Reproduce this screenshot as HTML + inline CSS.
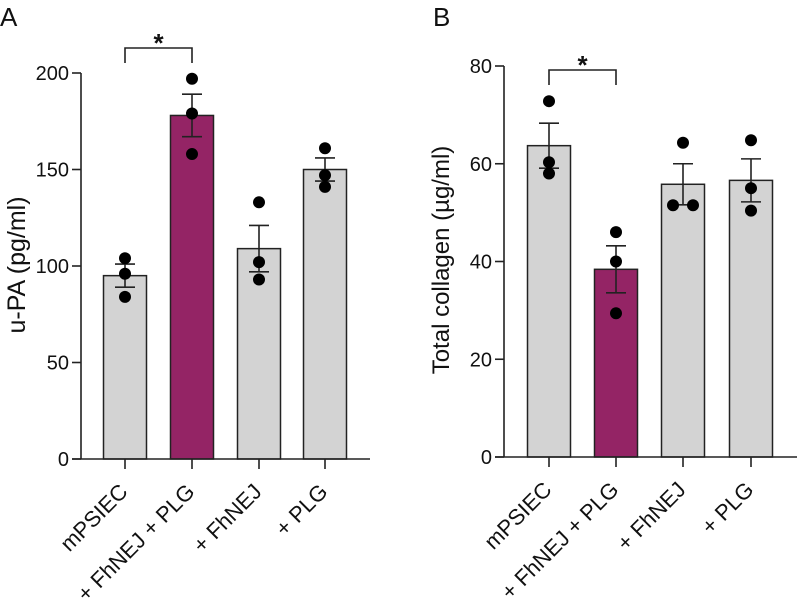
<!DOCTYPE html>
<html><head><meta charset="utf-8"><style>
html,body{margin:0;padding:0;background:#fff;}
svg{display:block;font-family:"Liberation Sans","DejaVu Sans",sans-serif;}
</style></head><body>
<svg id="fig" width="797" height="611" viewBox="0 0 797 611"></svg>
<script>
const categories = ["mPSIEC", "+ FhNEJ + PLG", "+ FhNEJ", "+ PLG"];
const aMeans = [95, 178, 109, 150];
const aSem = [6, 11, 12, 6];
const aPoints = [[104, 96, 84], [197, 179, 158], [133, 102, 93], [161, 147, 141]];
const aTicks = [0, 50, 100, 150, 200];
const bMeans = [63.7, 38.4, 55.8, 56.6];
const bSem = [4.6, 4.8, 4.2, 4.4];
const bPoints = [[72.8, 60.3, 58], [46, 40, 29.4], [64.3, 51.5, 51.5], [64.8, 55, 50.4]];
const bTicks = [0, 20, 40, 60, 80];

const NS = "http://www.w3.org/2000/svg";
const svg = document.getElementById("fig");
function mk(tag, attrs, parent, name) {
  const e = document.createElementNS(NS, tag);
  for (const k in attrs) e.setAttribute(k, attrs[k]);
  
  
  (parent || svg).appendChild(e);
  return e;
}
function panel(o) {
  const g = mk("g", {}, svg, o.id);
  const y = v => o.y0 - (v - o.min) / (o.max - o.min) * (o.y0 - o.yTop);
  const x = i => o.xs[i];
  const L = {stroke: "#222", "stroke-width": 1.6, fill: "none"};
  mk("text", {x: o.letterX, y: 26, "font-size": 26, fill: "#111"}, g, "panel-letter").textContent = o.letter;
  o.means.forEach((m, i) => {
    mk("rect", {x: x(i) - 21.5, y: y(m), width: 43, height: o.y0 - y(m), fill: i === 1 ? "#942465" : "#d3d3d3", stroke: "#222", "stroke-width": 1.5}, g, "bar-" + i);
    const t = y(m + o.sem[i]), b = y(m - o.sem[i]);
    mk("line", Object.assign({x1: x(i), x2: x(i), y1: t, y2: b}, L), g, "error-bar-" + i);
    mk("line", Object.assign({x1: x(i) - 10, x2: x(i) + 10, y1: t, y2: t}, L), g, "error-cap-top-" + i);
    mk("line", Object.assign({x1: x(i) - 10, x2: x(i) + 10, y1: b, y2: b}, L), g, "error-cap-bottom-" + i);
    o.pts[i].forEach((p, j) => {
      let dx = 0;
      if (o.spread && o.spread[i]) dx = o.spread[i][j];
      mk("circle", {cx: x(i) + dx, cy: y(p), r: 6, fill: "#000"}, g, "data-point");
    });
    mk("line", Object.assign({x1: x(i), x2: x(i), y1: o.y0, y2: o.y0 + 10}, L), g, "x-tick-" + i);
    mk("text", {x: 0, y: 0, "font-size": 22, fill: "#111", "text-anchor": "end",
      transform: `translate(${x(i) + 4},${o.y0 + 34}) rotate(-45)`}, g, "x-tick-label").textContent = categories[i];
  });
  mk("line", Object.assign({x1: o.axX, x2: o.axX, y1: o.yTop, y2: o.y0}, L), g, "y-axis");
  mk("line", Object.assign({x1: o.axX - 9, x2: o.xEnd, y1: o.y0, y2: o.y0}, L), g, "x-axis");
  o.ticks.forEach(t => {
    mk("line", Object.assign({x1: o.axX - 9, x2: o.axX, y1: y(t), y2: y(t)}, L), g, "y-tick");
    mk("text", {x: o.axX - 12, y: y(t) + 7, "font-size": 20, fill: "#111", "text-anchor": "end"}, g, "y-tick-label").textContent = t;
  });
  mk("text", {x: 0, y: 0, "font-size": o.titleSize, fill: "#111", "text-anchor": "middle",
    transform: `translate(${o.titleX},${o.titleY}) rotate(-90)`}, g, "y-axis-title").textContent = o.title;
  mk("path", Object.assign({d: `M${x(0)},${o.brY + 15} V${o.brY} H${x(1)} V${o.brY + 15}`}, L), g, "significance-bracket");
  mk("text", {x: (x(0) + x(1)) / 2, y: o.brY + 4, "font-size": 26, "font-weight": "bold", "text-anchor": "middle", fill: "#111"}, g, "significance-star").textContent = "*";
}
panel({id: "panel-a", letter: "A", letterX: 0, means: aMeans, sem: aSem, pts: aPoints, ticks: aTicks,
  min: 0, max: 200, y0: 459, yTop: 73, axX: 81, xEnd: 370, xs: [125, 192, 259, 325],
  title: "u-PA (pg/ml)", titleSize: 25, titleX: 25, titleY: 265, brY: 48});
panel({id: "panel-b", letter: "B", letterX: 433, means: bMeans, sem: bSem, pts: bPoints, ticks: bTicks,
  min: 0, max: 80, y0: 457, yTop: 66, axX: 504, xEnd: 797, xs: [549, 616, 683, 751],
  spread: [null, null, [0, -10, 10], null],
  title: "Total collagen (µg/ml)", titleSize: 24, titleX: 449, titleY: 260, brY: 70});
</script>
</body></html>
